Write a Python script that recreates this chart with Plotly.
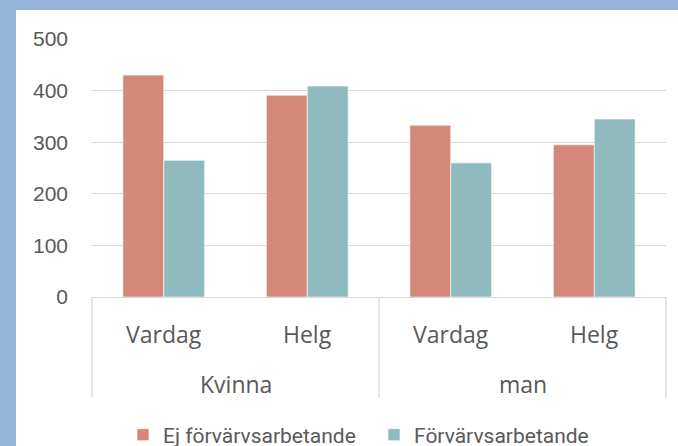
import plotly.graph_objects as go

groups = ["Kvinna", "Kvinna", "man", "man"]
days = ["Vardag", "Helg", "Vardag", "Helg"]
ej = [430, 391, 333, 295]
forv = [265, 409, 260, 345]
yticks = [0, 100, 200, 300, 400, 500]

W, H = 678, 446
L, R_EDGE, T, B_EDGE = 92, 666, 39, 297
pw, ph = R_EDGE - L, B_EDGE - T

def px(x):
    return (x - L) / pw

def py(y):
    return (B_EDGE - y) / ph

txt = "#595959"
grid = "#D9D9D9"
blue = "#95B3DB"

fig = go.Figure()
fig.add_trace(go.Bar(x=[groups, days], y=ej, name="Ej förvärvsarbetande",
                     marker=dict(color="#D4887A", line=dict(color="rgba(255,255,255,0.6)", width=1))))
fig.add_trace(go.Bar(x=[groups, days], y=forv, name="Förvärvsarbetande",
                     marker=dict(color="#8FBBBE", line=dict(color="rgba(255,255,255,0.6)", width=1))))

shapes = [
    dict(type="rect", xref="paper", yref="paper", x0=px(16), x1=px(700), y0=py(470), y1=py(10),
         fillcolor="white", line=dict(width=0), layer="below"),
]
for xx in [L, (L + R_EDGE) / 2, R_EDGE]:
    shapes.append(dict(type="line", xref="paper", yref="paper", x0=px(xx), x1=px(xx),
                       y0=0, y1=py(398), line=dict(color=grid, width=1.3)))

annotations = []
n = len(days)
for i, d in enumerate(days):
    annotations.append(dict(text=d, xref="paper", yref="paper", x=(i + 0.5) / n, y=py(333.5),
                            xanchor="center", yanchor="middle", showarrow=False,
                            font=dict(family="Open Sans", size=23, color=txt)))
uniq = []
for g in groups:
    if g not in uniq:
        uniq.append(g)
for j, g in enumerate(uniq):
    annotations.append(dict(text=g, xref="paper", yref="paper", x=(j + 0.5) / len(uniq), y=py(383.5),
                            xanchor="center", yanchor="middle", showarrow=False,
                            font=dict(family="Open Sans", size=23, color=txt)))

fig.update_layout(
    width=W, height=H,
    margin=dict(l=L, r=W - R_EDGE, t=T, b=H - B_EDGE, autoexpand=False),
    paper_bgcolor=blue, plot_bgcolor="white",
    barmode="group", bargap=0.43, bargroupgap=0,
    font=dict(family="Roboto", size=21, color=txt),
    showlegend=True,
    legend=dict(orientation="h", xref="container", yref="container",
                x=374 / W, xanchor="center", y=1 - 435 / H, yanchor="middle",
                bgcolor="rgba(0,0,0,0)", font=dict(family="Roboto", size=21, color=txt),
                itemwidth=30, traceorder="normal", entrywidth=206, entrywidthmode="pixels"),
    shapes=shapes,
    annotations=annotations,
)
fig.update_xaxes(type="multicategory", showline=True, linecolor=grid, linewidth=1.3,
                 showdividers=False, showticklabels=False, ticks="")
fig.update_yaxes(range=[0, 500], tickvals=yticks, showgrid=True, gridcolor=grid, gridwidth=1.3,
                 zeroline=False, ticks="", ticklabelstandoff=23,
                 tickfont=dict(family="Liberation Sans", size=21, color=txt))

fig.write_html("out.html", config={"displayModeBar": False},
               post_script="document.body.style.margin='0';document.body.style.background='" + blue + "';")
